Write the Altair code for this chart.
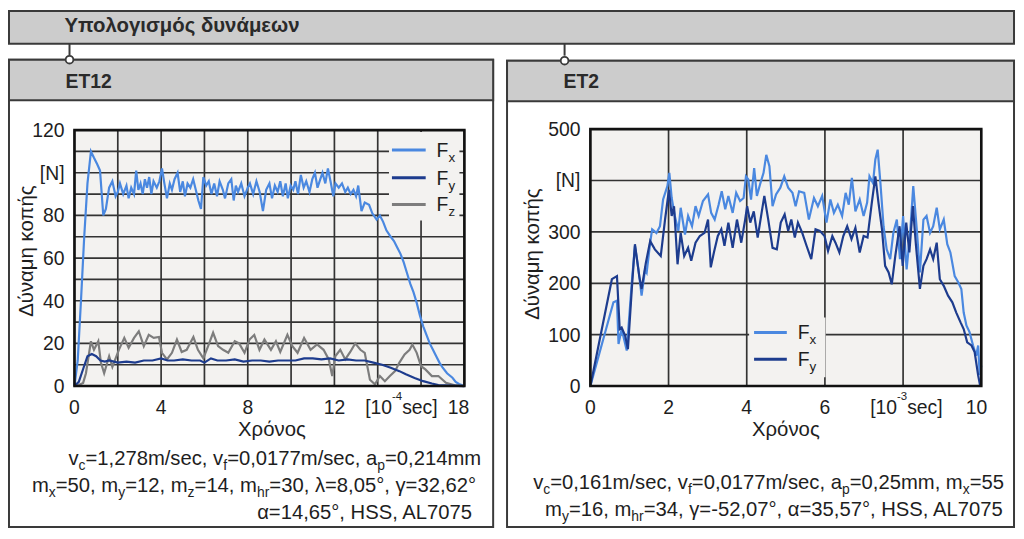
import altair as alt
import pandas as pd

FONT = "Liberation Sans"
W, H = 1016, 523

C_FX = "#4a88e0"
C_FY = "#1d3c8e"
C_FZ = "#7d7d7d"
BG = "#f3f2f0"
GRID = "#333333"
HEAD = "#cccccc"
EDGE = "#3a3a3a"
TXT = "#1e1e1e"

TICK_FS = 19.5
TITLE_FS = 20.5
PARAM_FS = 20.4

# ---------------- data: ET12 (time in 1e-4 s, force in N) ----------------
ET12_FX_T = [0, 0.15, 0.3, 0.45, 0.6, 0.76, 0.9, 1.05, 1.18, 1.33,
             1.45, 1.6, 1.75, 1.9, 2.0, 2.1, 2.25, 2.4, 2.5, 2.62,
             2.75, 2.85, 2.95, 3.05, 3.15, 3.25, 3.35, 3.45, 3.55, 3.65,
             3.8, 3.92, 4.04, 4.15, 4.27, 4.4, 4.5, 4.62, 4.76, 4.88,
             5.0, 5.1, 5.22, 5.35, 5.48, 5.6, 5.72, 5.84, 5.95, 6.08,
             6.2, 6.32, 6.45, 6.58, 6.7, 6.85, 6.95, 7.1, 7.24, 7.35,
             7.45, 7.55, 7.7, 7.85, 8.0, 8.1, 8.25, 8.4, 8.55, 8.7,
             8.85, 9.0, 9.12, 9.25, 9.38, 9.5, 9.62, 9.75, 9.85, 9.98,
             10.1, 10.2, 10.32, 10.45, 10.58, 10.7, 10.85, 10.98, 11.1, 11.22,
             11.35, 11.45, 11.58, 11.7, 11.82, 11.95, 12.05, 12.2, 12.35, 12.5,
             12.62, 12.75, 12.88, 13.0, 13.1, 13.25, 13.4, 13.6, 13.75, 13.95,
             14.1, 14.25, 14.4, 14.6, 14.75, 14.9, 15.05, 15.2, 15.35, 15.5,
             15.65, 15.8, 15.95, 16.1, 16.25, 16.4, 16.55, 16.7, 16.85, 17.0,
             17.2, 17.45, 17.6, 17.75, 18]
ET12_FX_V = [0, 12, 40, 70, 95, 110, 107, 104, 101, 80,
             83, 93, 96, 89, 91, 95, 90, 94, 88, 93,
             90, 101, 92, 95, 90, 97, 93, 98, 90, 96,
             93, 96, 102, 95, 88, 95, 92, 97, 100, 91,
             96, 89, 95, 93, 97, 92, 87, 83, 98, 94,
             96, 90, 95, 89, 96, 92, 88, 95, 97, 87,
             94, 91, 95, 89, 93, 95, 90, 96, 91, 82,
             92, 95, 88, 94, 91, 96, 89, 95, 88, 94,
             92, 96, 90, 99, 93, 96, 91, 97, 100, 93,
             97, 100, 95, 102, 96, 89, 95, 93, 95, 91,
             93, 90, 92, 89, 94, 82, 86, 85, 81, 78,
             80, 77, 73, 70, 68, 65, 62, 58, 53, 48,
             44, 39, 33, 28, 24, 20, 17, 14, 11, 8.6,
             6, 3.9, 2, 1, 0]

ET12_FY_T = [0, 0.2, 0.4, 0.6, 0.8, 1.0, 1.2, 1.4, 1.6, 2.0,
             2.4, 2.8, 3.2, 3.6, 4.0, 4.3, 4.6, 5.0, 5.4, 5.8,
             6.0, 6.3, 6.6, 7.0, 7.4, 7.8, 8.2, 8.6, 9.0, 9.4,
             9.8, 10.2, 10.6, 11.0, 11.4, 11.8, 12.2, 12.6, 13.0, 13.4,
             13.8, 14.2, 14.6, 15.0, 15.3, 15.7, 16.1, 16.5, 16.8, 17.4,
             18]
ET12_FY_V = [0, 2, 8, 14, 15, 14, 12, 11.5, 12, 11,
             11.5, 11, 12, 12, 13, 12, 12, 12.5, 12, 12,
             11, 13, 12, 12, 12.5, 11.5, 12, 12, 11.5, 12,
             12, 12, 13, 13, 12.5, 13, 12, 12.5, 12, 12,
             11, 10, 8.6, 7, 5.5, 3.8, 2.3, 1.2, 0.5, 0.2,
             0]

ET12_FZ_T = [0, 0.2, 0.4, 0.53, 0.76, 0.9, 1.1, 1.22, 1.37, 1.6,
             1.75, 2.05, 2.3, 2.5, 2.75, 2.97, 3.2, 3.43, 3.66, 3.9,
             4.04, 4.27, 4.5, 4.73, 4.95, 5.18, 5.49, 5.7, 5.95, 6.17,
             6.4, 6.63, 6.86, 7.1, 7.4, 7.6, 7.85, 8.08, 8.3, 8.54,
             8.77, 9.07, 9.3, 9.5, 9.83, 10.06, 10.3, 10.6, 10.9, 11.2,
             11.5, 11.74, 11.9, 12.04, 12.27, 12.5, 12.73, 12.96, 13.2, 13.4,
             13.64, 13.87, 14.1, 14.33, 14.56, 14.8, 15.0, 15.24, 15.47, 15.6,
             15.8, 16.0, 16.2, 16.5, 16.8, 17.15, 17.6, 18]
ET12_FZ_V = [0, 0.5, 1.5, 6, 21, 17, 21, 11, 6, 14,
             9, 17, 22.6, 18, 22.6, 25.7, 18.7, 24, 22.6, 23,
             15.6, 12.5, 15.6, 21.8, 16, 17, 23, 17, 13, 18.7,
             25, 18.7, 17, 15.6, 21, 20, 15.6, 21.8, 24, 17,
             21.8, 17, 21, 16, 24, 18.7, 15.6, 22.6, 17, 19.5,
             17, 12.5, 4.7, 14, 17, 12.5, 16, 20, 17, 15.6,
             3, 0.8, 4.7, 2.3, 4.7, 7, 11, 14.8, 17, 19.5,
             15.6, 9.3, 7.8, 4.7, 4.7, 1.5, 0.3, 0]

# ---------------- data: ET2 (time in 1e-3 s, force in N) ----------------
ET2_FX_T = [0, 0.59, 0.68, 0.72, 0.8, 0.93, 1.06, 1.14, 1.23, 1.31,
            1.4, 1.44, 1.53, 1.58, 1.69, 1.78, 1.86, 1.97, 2.02, 2.08,
            2.16, 2.25, 2.31, 2.42, 2.5, 2.6, 2.69, 2.77, 2.88, 3.01,
            3.09, 3.18, 3.28, 3.36, 3.45, 3.53, 3.64, 3.73, 3.83, 3.92,
            3.98, 4.04, 4.11, 4.19, 4.26, 4.35, 4.43, 4.5, 4.58, 4.66,
            4.75, 4.86, 4.96, 5.06, 5.17, 5.25, 5.34, 5.47, 5.59, 5.72,
            5.82, 5.93, 6.04, 6.14, 6.23, 6.33, 6.44, 6.53, 6.61, 6.69,
            6.78, 6.89, 6.99, 7.08, 7.14, 7.23, 7.29, 7.35, 7.42, 7.5,
            7.58, 7.67, 7.75, 7.84, 7.92, 8.0, 8.09, 8.18, 8.26, 8.35,
            8.43, 8.52, 8.6, 8.69, 8.77, 8.86, 8.94, 9.04, 9.13, 9.21,
            9.32, 9.41, 9.49, 9.55, 9.62, 9.7, 9.79, 9.87, 9.92, 9.96,
            10]
ET2_FX_V = [0, 163, 166, 82, 111, 69, 202, 273, 227, 176,
            227, 221, 279, 305, 298, 311, 363, 389, 415, 366,
            331, 302, 347, 295, 331, 311, 350, 331, 360, 373,
            337, 324, 353, 379, 344, 370, 337, 376, 360, 366,
            408, 402, 363, 424, 370, 395, 415, 450, 428, 350,
            373, 386, 408, 386, 376, 350, 379, 376, 324, 366,
            350, 370, 318, 363, 337, 353, 331, 376, 353, 405,
            340, 363, 331, 357, 408, 395, 441, 460, 395, 311,
            266, 247, 298, 324, 247, 331, 227, 298, 389, 305,
            221, 324, 331, 298, 311, 347, 305, 324, 276, 260,
            214, 202, 189, 143, 118, 105, 79, 59, 79, 21,
            40]

ET2_FY_T = [0, 0.55, 0.68, 0.75, 0.8, 0.89, 0.96, 1.06, 1.14, 1.25,
            1.31, 1.42, 1.53, 1.65, 1.8, 1.91, 2.01, 2.08, 2.14, 2.23,
            2.31, 2.4, 2.5, 2.58, 2.69, 2.8, 2.92, 3.01, 3.08, 3.16,
            3.26, 3.35, 3.43, 3.53, 3.64, 3.75, 3.86, 3.96, 4.01, 4.09,
            4.18, 4.28, 4.38, 4.45, 4.55, 4.66, 4.77, 4.87, 4.97, 5.06,
            5.14, 5.23, 5.31, 5.42, 5.53, 5.65, 5.76, 5.87, 5.99, 6.08,
            6.19, 6.27, 6.37, 6.47, 6.57, 6.68, 6.78, 6.89, 6.99, 7.09,
            7.2, 7.29, 7.37, 7.46, 7.54, 7.63, 7.71, 7.8, 7.91, 7.99,
            8.08, 8.16, 8.25, 8.33, 8.43, 8.52, 8.6, 8.69, 8.77, 8.86,
            8.94, 9.04, 9.15, 9.26, 9.36, 9.47, 9.55, 9.64, 9.75, 9.83,
            9.92, 9.97, 10]
ET2_FY_V = [0, 208, 214, 111, 114, 98, 72, 189, 276, 214,
            189, 240, 282, 266, 253, 324, 382, 331, 350, 237,
            298, 253, 269, 244, 279, 292, 298, 324, 231, 260,
            292, 305, 273, 318, 269, 324, 279, 324, 350, 318,
            340, 289, 337, 370, 324, 269, 266, 318, 334, 302,
            324, 289, 318, 298, 273, 247, 305, 302, 292, 263,
            292, 279, 260, 292, 311, 286, 308, 260, 292, 289,
            357, 408, 357, 305, 234, 221, 198, 253, 311, 234,
            318, 260, 350, 273, 189, 234, 247, 266, 247, 279,
            208, 195, 176, 163, 143, 124, 111, 85, 79, 66,
            21, 1, 0]

for a, b in [(ET12_FX_T, ET12_FX_V), (ET12_FY_T, ET12_FY_V), (ET12_FZ_T, ET12_FZ_V),
             (ET2_FX_T, ET2_FX_V), (ET2_FY_T, ET2_FY_V)]:
    assert len(a) == len(b), (len(a), len(b))

# axis ticks / labels
ET12_XGRID = [0, 2, 4, 6, 8, 10, 12, 14, 16, 18]
ET12_YGRID = [0, 10, 20, 30, 40, 50, 60, 70, 80, 90, 100, 110, 120]
ET12_XTICKS = [0, 4, 8, 12]
ET12_YTICKS = [0, 20, 40, 60, 80, 100, 120]
ET12_YLABELS = ["0", "20", "40", "60", "80", "[N]", "120"]
ET2_XGRID = [0, 2, 4, 6, 8, 10]
ET2_YGRID = [0, 100, 200, 300, 400, 500]
ET2_XTICKS = [0, 2, 4, 6]
ET2_YTICKS = [0, 100, 200, 300, 400, 500]
ET2_YLABELS = ["0", "100", "200", "300", "[N]", "500"]

# ---------------- text metrics (Arial / Liberation Sans, per 1000 em) ----------------
AW = {" ": 278, ",": 278, "-": 333, ".": 278, "/": 278, "=": 584, "[": 278, "]": 278,
      "\u00b0": 400, "a": 556, "c": 500, "e": 556, "f": 278, "h": 556, "m": 833,
      "p": 556, "r": 333, "s": 500, "v": 500, "x": 500, "y": 500, "z": 500,
      "A": 667, "F": 611, "H": 722, "L": 556, "S": 667,
      "\u03bb": 500, "\u03b3": 500, "\u03b1": 578}
for d in "0123456789":
    AW[d] = 556


def tw(s, size):
    return sum(AW.get(ch, 556) for ch in s) * size / 1000.0


def compose(segs, base, size, small, dsub, dsup, left=None, right=None):
    widths = [tw(t, small if k else size) for t, k in segs]
    x = left if left is not None else right - sum(widths)
    rows = []
    for (t, k), w in zip(segs, widths):
        dy = dsub if k == 1 else (dsup if k == 2 else 0)
        rows.append(dict(x=x, y=base + dy, text=t, size=small if k else size))
        x += w
    return rows


rows = []
# parameter lines, ET12
rows += compose([("v", 0), ("c", 1), ("=1,278m/sec, v", 0), ("f", 1),
                 ("=0,0177m/sec, a", 0), ("p", 1), ("=0,214mm", 0)],
                459, PARAM_FS, 14, 5, 0, right=477)
rows += compose([("m", 0), ("x", 1), ("=50, m", 0), ("y", 1), ("=12, m", 0), ("z", 1),
                 ("=14, m", 0), ("hr", 1), ("=30, \u03bb=8,05\u00b0, \u03b3=32,62\u00b0", 0)],
                486, PARAM_FS, 14, 5, 0, right=472)
rows += compose([("\u03b1=14,65\u00b0, HSS, AL7075", 0)], 513, PARAM_FS, 14, 5, 0, right=469)
# parameter lines, ET2
rows += compose([("v", 0), ("c", 1), ("=0,161m/sec, v", 0), ("f", 1),
                 ("=0,0177m/sec, a", 0), ("p", 1), ("=0,25mm, m", 0), ("x", 1), ("=55", 0)],
                483, PARAM_FS, 14, 5, 0, right=1004)
rows += compose([("m", 0), ("y", 1), ("=16, m", 0), ("hr", 1),
                 ("=34, \u03b3=-52,07\u00b0, \u03b1=35,57\u00b0, HSS, AL7075", 0)],
                510, PARAM_FS, 14, 5, 0, right=1004)
# unit labels on the time axes
rows += compose([("[10", 0), ("-4", 2), ("sec]", 0)], 407, TICK_FS, 11.5, 0, -14, left=360)
rows += compose([("[10", 0), ("-3", 2), ("sec]", 0)], 407, TICK_FS, 11.5, 0, -14, left=869)
# legend labels
for yl, s in [(141, "x"), (169, "y"), (196, "z")]:
    rows += compose([("F", 0), (s, 1)], yl + 7, TICK_FS, 13.5, 5, 0, left=432)
for yl, s in [(325, "x"), (352, "y")]:
    rows += compose([("F", 0), (s, 1)], yl + 7, TICK_FS, 13.5, 5, 0, left=796)
ann = pd.DataFrame(rows)

# ---------------- frames ----------------
one = pd.DataFrame({"a": [0]})
frames_df = pd.DataFrame({
    "x": [1, 1, 1, 503, 503], "x2": [1014, 489, 489, 1014, 1014],
    "y": [1, 50, 50, 51, 51], "y2": [34, 521, 91, 521, 92],
    "f": [HEAD, "#ffffff", HEAD, "#ffffff", HEAD]})
frames = alt.Chart(frames_df).mark_rect(stroke=EDGE, strokeWidth=2).encode(
    x=alt.X("x:Q", scale=None, axis=None), x2="x2:Q",
    y=alt.Y("y:Q", scale=None, axis=None), y2="y2:Q",
    fill=alt.Fill("f:N", scale=None, legend=None))

conn_df = pd.DataFrame({"x": [62, 561], "y": [34, 34], "y2": [46, 46]})
conn = alt.Chart(conn_df).mark_rule(color=EDGE, strokeWidth=2).encode(
    x=alt.X("x:Q", scale=None, axis=None),
    y=alt.Y("y:Q", scale=None, axis=None), y2="y2:Q")
circ_df = pd.DataFrame({"x": [62, 561], "y": [50, 51]})
circ = alt.Chart(circ_df).mark_point(filled=True, fill="white", stroke=EDGE, strokeWidth=1.8,
                                     size=60, opacity=1, shape="circle").encode(
    x=alt.X("x:Q", scale=None, axis=None), y=alt.Y("y:Q", scale=None, axis=None))

bold_df = pd.DataFrame({"x": [57, 58, 560], "y": [22, 79, 79],
                        "text": ["\u03a5\u03c0\u03bf\u03bb\u03bf\u03b3\u03b9\u03c3\u03bc\u03cc\u03c2 \u03b4\u03c5\u03bd\u03ac\u03bc\u03b5\u03c9\u03bd", "ET12", "ET2"],
                        "size": [20.5, 19.5, 19.5]})
bold = alt.Chart(bold_df).mark_text(align="left", baseline="alphabetic", font=FONT,
                                    fontWeight="bold", color="#2a2a2a").encode(
    x=alt.X("x:Q", scale=None, axis=None), y=alt.Y("y:Q", scale=None, axis=None), text="text:N",
    size=alt.Size("size:Q", scale=None, legend=None))


def panel(xs, ys, xdom, ydom, xgrid, ygrid, series, box, xticks, xlast, yticks, ylabels, ylab_x):
    L = []
    bg = pd.DataFrame({"a": [xdom[0]], "b": [xdom[1]], "c": [ydom[0]], "d": [ydom[1]]})
    L.append(alt.Chart(bg).mark_rect(color=BG).encode(
        x=alt.X("a:Q", scale=xs, axis=None), x2="b:Q",
        y=alt.Y("c:Q", scale=ys, axis=None), y2="d:Q"))
    vg = pd.DataFrame({"g": xgrid, "lo": ydom[0], "hi": ydom[1]})
    L.append(alt.Chart(vg).mark_rule(color=GRID, strokeWidth=1.7).encode(
        x=alt.X("g:Q", scale=xs, axis=None),
        y=alt.Y("lo:Q", scale=ys, axis=None), y2="hi:Q"))
    hg = pd.DataFrame({"g": ygrid, "lo": xdom[0], "hi": xdom[1]})
    L.append(alt.Chart(hg).mark_rule(color=GRID, strokeWidth=1.7).encode(
        y=alt.Y("g:Q", scale=ys, axis=None),
        x=alt.X("lo:Q", scale=xs, axis=None), x2="hi:Q"))
    L.append(alt.Chart(one).mark_rect(color=BG).encode(
        x=alt.value(box[0]), x2=alt.value(box[1]), y=alt.value(box[2]), y2=alt.value(box[3])))
    for name, t, v, col in series:
        df = pd.DataFrame({"t": t, "v": v})
        L.append(alt.Chart(df).mark_line(color=col, strokeWidth=2.2).encode(
            x=alt.X("t:Q", scale=xs, axis=None), y=alt.Y("v:Q", scale=ys, axis=None),
            order="t:Q"))
    L.append(alt.Chart(bg).mark_rect(filled=False, color="#111111", strokeWidth=2.6).encode(
        x=alt.X("a:Q", scale=xs, axis=None), x2="b:Q",
        y=alt.Y("c:Q", scale=ys, axis=None), y2="d:Q"))
    xt = pd.DataFrame({"v": xticks, "lab": [str(v) for v in xticks]})
    L.append(alt.Chart(xt).mark_text(align="center", baseline="alphabetic", font=FONT,
                                     fontSize=TICK_FS, color=TXT).encode(
        x=alt.X("v:Q", scale=xs, axis=None), y=alt.value(407), text="lab:N"))
    xl = pd.DataFrame({"v": [xdom[1]], "lab": [str(xdom[1])]})
    L.append(alt.Chart(xl).mark_text(align="right", baseline="alphabetic", font=FONT,
                                     fontSize=TICK_FS, color=TXT, dx=xlast).encode(
        x=alt.X("v:Q", scale=xs, axis=None), y=alt.value(407), text="lab:N"))
    yt = pd.DataFrame({"v": yticks, "lab": ylabels})
    L.append(alt.Chart(yt).mark_text(align="right", baseline="middle", font=FONT,
                                     fontSize=TICK_FS, color=TXT, dy=1).encode(
        y=alt.Y("v:Q", scale=ys, axis=None), x=alt.value(ylab_x), text="lab:N"))
    return alt.layer(*L)


left = panel(alt.Scale(domain=[0, 18], range=[67, 460], nice=False, zero=False),
             alt.Scale(domain=[0, 120], range=[379, 121], nice=False, zero=False),
             [0, 18], [0, 120], ET12_XGRID, ET12_YGRID,
             [("Fx", ET12_FX_T, ET12_FX_V, C_FX), ("Fz", ET12_FZ_T, ET12_FZ_V, C_FZ),
              ("Fy", ET12_FY_T, ET12_FY_V, C_FY)],
             (384, 455, 123, 212), ET12_XTICKS, 5, ET12_YTICKS, ET12_YLABELS, 57)

right = panel(alt.Scale(domain=[0, 10], range=[587, 981], nice=False, zero=False),
              alt.Scale(domain=[0, 500], range=[379, 120], nice=False, zero=False),
              [0, 10], [0, 500], ET2_XGRID, ET2_YGRID,
              [("Fx", ET2_FX_T, ET2_FX_V, C_FX), ("Fy", ET2_FY_T, ET2_FY_V, C_FY)],
              (747, 824, 310, 370), ET2_XTICKS, 6, ET2_YTICKS, ET2_YLABELS, 577)

leg_df = pd.DataFrame({"x": [387, 387, 387, 752, 752], "x2": [421, 421, 421, 785, 785],
                       "y": [141, 169, 196, 325, 352],
                       "c": [C_FX, C_FY, C_FZ, C_FX, C_FY]})
leg = alt.Chart(leg_df).mark_rule(strokeWidth=3).encode(
    x=alt.X("x:Q", scale=None, axis=None), x2="x2:Q",
    y=alt.Y("y:Q", scale=None, axis=None),
    color=alt.Color("c:N", scale=None, legend=None))

texts = alt.Chart(ann).mark_text(align="left", baseline="alphabetic", font=FONT, color=TXT).encode(
    x=alt.X("x:Q", scale=None, axis=None), y=alt.Y("y:Q", scale=None, axis=None),
    text="text:N", size=alt.Size("size:Q", scale=None, legend=None))

xt_df = pd.DataFrame({"x": [266, 784], "y": [429, 429], "text": ["\u03a7\u03c1\u03cc\u03bd\u03bf\u03c2"] * 2})
xtitle = alt.Chart(xt_df).mark_text(align="center", baseline="alphabetic", font=FONT,
                                    fontSize=TITLE_FS, color=TXT).encode(
    x=alt.X("x:Q", scale=None, axis=None), y=alt.Y("y:Q", scale=None, axis=None), text="text:N")
yt_df = pd.DataFrame({"x": [19, 529], "y": [243, 246], "text": ["\u0394\u03cd\u03bd\u03b1\u03bc\u03b7 \u03ba\u03bf\u03c0\u03ae\u03c2"] * 2})
ytitle = alt.Chart(yt_df).mark_text(align="center", baseline="middle", font=FONT, angle=270,
                                    fontSize=TITLE_FS, color=TXT).encode(
    x=alt.X("x:Q", scale=None, axis=None), y=alt.Y("y:Q", scale=None, axis=None), text="text:N")

chart = alt.layer(frames, conn, circ, bold, left, right, leg, texts, xtitle, ytitle).resolve_scale(
    x="independent", y="independent", color="independent", size="independent", fill="independent"
).properties(width=W, height=H, autosize=alt.AutoSizeParams(type="none"), padding=0
).configure_view(stroke=None)

chart.save("out.html", embed_options={"renderer": "svg", "actions": False})
